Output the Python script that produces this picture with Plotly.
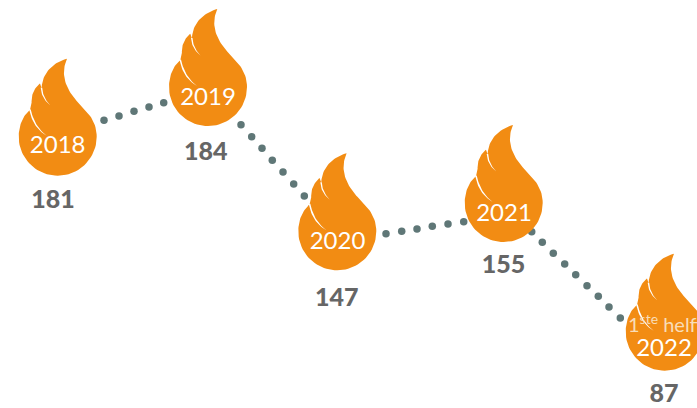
import numpy as np
import plotly.graph_objects as go

# Data
years = ["2018", "2019", "2020", "2021", "2022"]
values = [181, 184, 147, 155, 87]
flame_x = [57.7, 208, 337.3, 503.7, 664.7]
flame_y = [136.7, 87, 231.3, 203, 331.7]
year_x = [57.7, 208, 337.5, 504, 664]
year_y = [147, 99, 242.5, 215, 350]
value_x = [53, 205.7, 336.7, 503.5, 664]
value_y = [202, 153.5, 299.5, 266.5, 395.5]

dots_x = [104, 119, 134, 149, 163.7,
          241, 251.7, 262, 272.3, 283, 293.7, 304.3, 311.7,
          386, 401.7, 417, 432.3, 448, 463.7,
          531.7, 542.3, 553.3, 564.7, 575.7, 587, 598.3, 609, 620.3]
dots_y = [120.3, 116, 111.3, 107, 102.7,
          124.7, 136.7, 148.3, 160.3, 172, 184, 196, 208,
          233.7, 231.3, 229, 226.3, 224, 221.7,
          231.7, 242.3, 253.3, 264, 274.7, 285.7, 296.3, 307, 318]

note_text = "1<sup>ste</sup> helft"
note_x = 628
note_y = 327

ORANGE = "#F28C13"
DOT = "#5F7777"
GREY = "#666666"
FONT = "Lato, 'Open Sans', sans-serif"
K = 21.5


def bez(p0, p1, p2, p3, n=24):
    t = np.linspace(0, 1, n)[:, None]
    p0, p1, p2, p3 = map(np.array, (p0, p1, p2, p3))
    return (1 - t) ** 3 * p0 + 3 * (1 - t) ** 2 * t * p1 + 3 * (1 - t) * t ** 2 * p2 + t ** 3 * p3


outline = np.vstack([
    bez((9.3, -78), (4, -66), (5, -53), (17, -38)),
    bez((17, -38), (24, -29), (39, -20), (39, 0)),
    bez((39, 0), (39, K), (K, 39), (0, 39)),
    bez((0, 39), (-K, 39), (-39, K), (-39, 0)),
    bez((-39, 0), (-39, -11), (-35, -21), (-27.7, -26.7)),
    bez((-27.7, -26.7), (-27, -29), (-26.5, -31), (-26, -33), 4),
    bez((-26, -33), (-27, -42), (-23, -49), (-17.7, -53.3)),
    bez((-17.7, -53.3), (-17, -52), (-16.5, -50), (-16, -48.5), 4),
    bez((-16, -48.5), (-16, -62), (-6, -74), (9.3, -78)),
])
crease_a = np.vstack([
    bez((-28.5, -27), (-26, -15), (-21, -7), (-11, -1)),
    bez((-11, -1), (-20, -8), (-24.5, -16), (-27, -27.5)),
])
crease_b = np.vstack([
    bez((-17, -49), (-16.5, -41), (-13, -36), (-7.5, -31.5)),
    bez((-7.5, -31.5), (-12, -36.5), (-15, -41), (-15.5, -49)),
])

fig = go.Figure()
fig.add_trace(go.Scatter(x=dots_x, y=dots_y, mode="markers",
                         marker=dict(size=7.5, color=DOT, line=dict(width=0)),
                         hoverinfo="skip", showlegend=False))

for cx, cy in zip(flame_x, flame_y):
    fig.add_trace(go.Scatter(x=outline[:, 0] + cx, y=outline[:, 1] + cy, mode="lines",
                             fill="toself", fillcolor=ORANGE, line=dict(width=0, color=ORANGE),
                             hoverinfo="skip", showlegend=False))
    for c in (crease_a, crease_b):
        fig.add_trace(go.Scatter(x=c[:, 0] + cx, y=c[:, 1] + cy, mode="lines",
                                 fill="toself", fillcolor="white", line=dict(width=0, color="white"),
                                 hoverinfo="skip", showlegend=False))

fig.add_trace(go.Scatter(x=year_x, y=year_y, mode="text", text=years, textposition="middle center",
                         textfont=dict(family=FONT, size=24, color="white", weight=400),
                         hoverinfo="skip", showlegend=False))
fig.add_trace(go.Scatter(x=value_x, y=value_y, mode="text", text=[str(v) for v in values],
                         textposition="middle center",
                         textfont=dict(family=FONT, size=25, color=GREY, weight=900),
                         hoverinfo="skip", showlegend=False))
fig.add_trace(go.Scatter(x=[note_x], y=[note_y], mode="text", text=[note_text], textposition="middle right",
                         textfont=dict(family=FONT, size=20, color="#F8DDB8"),
                         cliponaxis=True, hoverinfo="skip", showlegend=False))

fig.update_layout(
    width=697, height=408, margin=dict(l=0, r=0, t=0, b=0),
    paper_bgcolor="white", plot_bgcolor="white", showlegend=False,
    xaxis=dict(range=[0, 697], visible=False, fixedrange=True),
    yaxis=dict(range=[408, 0], visible=False, fixedrange=True),
)
fig.write_html("out.html", config={"displayModeBar": False},
               post_script="document.body.style.margin='0';document.body.style.overflow='hidden';")
